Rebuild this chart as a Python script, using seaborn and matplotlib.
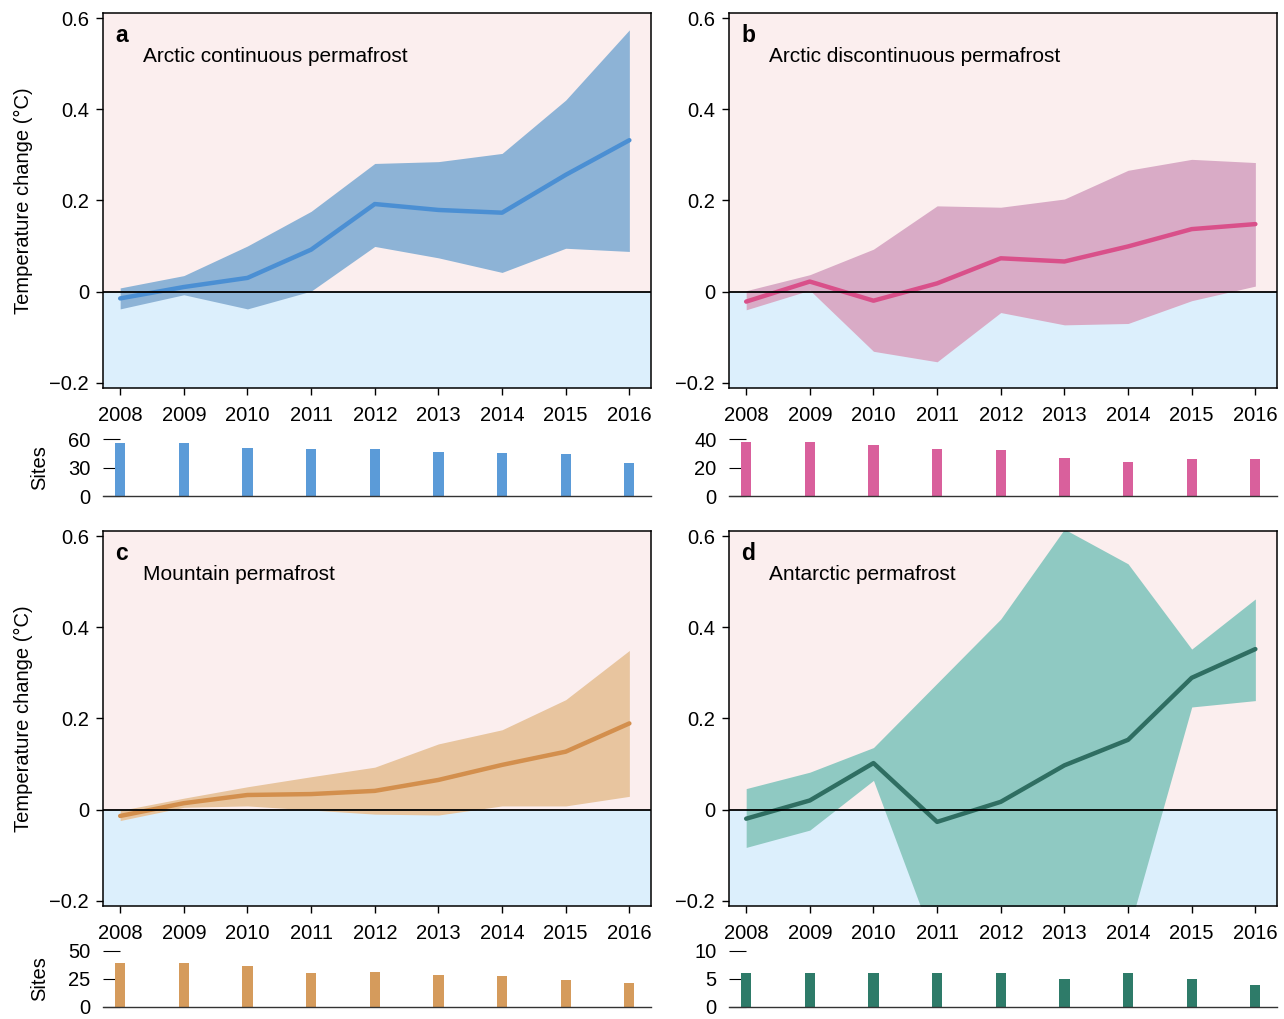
import matplotlib
matplotlib.use("Agg")
import matplotlib.pyplot as plt
import seaborn as sns
import pandas as pd

sns.set_style("ticks")
plt.rcParams['font.family'] = ['Liberation Sans', 'DejaVu Sans']
plt.rcParams['text.color'] = 'black'
plt.rcParams['axes.labelcolor'] = 'black'
plt.rcParams['xtick.color'] = 'black'
plt.rcParams['ytick.color'] = 'black'

years = [2008, 2009, 2010, 2011, 2012, 2013, 2014, 2015, 2016]

a_mean = [-0.015, 0.01, 0.03, 0.092, 0.192, 0.179, 0.173, 0.256, 0.332]
a_upper = [0.008, 0.035, 0.1, 0.176, 0.281, 0.285, 0.303, 0.42, 0.574]
a_lower = [-0.038, -0.007, -0.038, 0.001, 0.099, 0.074, 0.042, 0.095, 0.088]
a_sites = [56, 56, 51, 50, 50, 46, 45, 44, 35]

b_mean = [-0.022, 0.022, -0.02, 0.018, 0.073, 0.066, 0.099, 0.137, 0.148]
b_upper = [0.002, 0.037, 0.093, 0.188, 0.185, 0.203, 0.266, 0.29, 0.283]
b_lower = [-0.04, 0.003, -0.131, -0.154, -0.046, -0.073, -0.07, -0.02, 0.012]
b_sites = [38, 38, 36, 33, 32, 27, 24, 26, 26]

c_mean = [-0.014, 0.014, 0.032, 0.034, 0.041, 0.065, 0.098, 0.127, 0.189]
c_upper = [-0.002, 0.025, 0.05, 0.072, 0.093, 0.144, 0.175, 0.241, 0.349]
c_lower = [-0.024, 0.005, 0.008, -0.001, -0.01, -0.012, 0.008, 0.008, 0.029]
c_sites = [39, 39, 37, 30, 31, 29, 28, 24, 21]

d_mean = [-0.02, 0.02, 0.102, -0.027, 0.017, 0.097, 0.153, 0.289, 0.352]
d_upper = [0.046, 0.082, 0.136, 0.277, 0.418, 0.615, 0.539, 0.352, 0.462]
d_lower = [-0.083, -0.045, 0.064, -0.31, -0.36, -0.38, -0.27, 0.225, 0.239]
d_sites = [6, 6, 6, 6, 6, 5, 6, 5, 4]

panels = [
    dict(letter='a', title='Arctic continuous permafrost', mean=a_mean, up=a_upper, lo=a_lower,
         sites=a_sites, sticks=[0, 30, 60], smax=60,
         band='#8db3d6', line='#4b8fd3', bar='#5b9bd8', col=0, row=0),
    dict(letter='b', title='Arctic discontinuous permafrost', mean=b_mean, up=b_upper, lo=b_lower,
         sites=b_sites, sticks=[0, 20, 40], smax=40,
         band='#d9abc6', line='#d9508a', bar='#d9609c', col=1, row=0),
    dict(letter='c', title='Mountain permafrost', mean=c_mean, up=c_upper, lo=c_lower,
         sites=c_sites, sticks=[0, 25, 50], smax=50,
         band='#e8c59f', line='#d38f4d', bar='#d59b5c', col=0, row=1),
    dict(letter='d', title='Antarctic permafrost', mean=d_mean, up=d_upper, lo=d_lower,
         sites=d_sites, sticks=[0, 5, 10], smax=10,
         band='#8fc9c2', line='#2f6e62', bar='#2e7b69', col=1, row=1),
]

W, H = 1284, 1019
fig = plt.figure(figsize=(W / 100, H / 100), dpi=100)


def rect(l, t, r, b):
    return [l / W, 1 - b / H, (r - l) / W, (b - t) / H]


lefts = [103, 729]
width = 548
main_tb = [(13, 388), (531, 906)]
bar_tb = [(439, 496), (951, 1007)]

FS = 14.5
XLIM = (2007.73, 2016.34)
YLIM = (-0.2115, 0.611)
PINK = '#fbeeee'
BLUE = '#dceffc'

for p in panels:
    l = lefts[p['col']]
    t, b = main_tb[p['row']]
    ax = fig.add_axes(rect(l, t, l + width, b))
    ax.set_facecolor(PINK)
    ax.axhspan(YLIM[0], 0, color=BLUE, zorder=0, lw=0)
    ax.fill_between(years, p['lo'], p['up'], color=p['band'], lw=0, zorder=1)
    df = pd.DataFrame({'year': years, 'val': p['mean']})
    sns.lineplot(data=df, x='year', y='val', ax=ax, color=p['line'], lw=3.2, zorder=3)
    ax.axhline(0, color='black', lw=1.3, zorder=4)
    ax.set_xlim(*XLIM)
    ax.set_ylim(*YLIM)
    ax.set_xticks(years)
    ax.set_xticklabels([str(y) for y in years], fontsize=FS)
    ax.set_yticks([-0.2, 0, 0.2, 0.4, 0.6])
    ax.set_yticklabels(['\u22120.2', '0', '0.2', '0.4', '0.6'], fontsize=FS)
    ax.tick_params(axis='y', direction='out', length=5, width=1, pad=5, colors='black')
    ax.tick_params(axis='x', direction='out', length=5, width=1, pad=8, colors='black')
    for s in ax.spines.values():
        s.set_visible(True)
        s.set_linewidth(1.1)
        s.set_color('black')
    ax.set_xlabel('')
    ax.set_ylabel('')
    if p['col'] == 0:
        ax.set_ylabel('Temperature change (\u00b0C)', fontsize=FS, labelpad=12)
    ax.text(0.022, 0.94, p['letter'], transform=ax.transAxes, fontsize=FS + 2,
            fontweight='bold', va='center', ha='left')
    ax.text(0.073, 0.885, p['title'], transform=ax.transAxes, fontsize=FS + 0.5,
            va='center', ha='left')

    # sites bar panel
    bt, bb = bar_tb[p['row']]
    bx = fig.add_axes(rect(l, bt, l + width, bb))
    bx.set_facecolor('none')
    sdf = pd.DataFrame({'year': years, 'sites': p['sites']})
    sns.barplot(data=sdf, x='year', y='sites', ax=bx, native_scale=True, color=p['bar'],
                saturation=1, width=0.16, linewidth=0)
    bx.set_xlim(*XLIM)
    bx.set_ylim(0, p['smax'])
    bx.set_yticks(p['sticks'])
    bx.set_yticklabels([str(v) for v in p['sticks']], fontsize=FS)
    bx.set_xticks([])
    bx.tick_params(axis='y', direction='in', length=12, width=0.8, pad=9, colors='black')
    for k in ['top', 'right', 'left']:
        bx.spines[k].set_visible(False)
    bx.spines['bottom'].set_linewidth(1.0)
    bx.spines['bottom'].set_color('#333333')
    bx.set_xlabel('')
    bx.set_ylabel('')
    if p['col'] == 0:
        bx.set_ylabel('Sites', fontsize=FS, labelpad=14)

fig.savefig('out.png', dpi=100, facecolor='white')
